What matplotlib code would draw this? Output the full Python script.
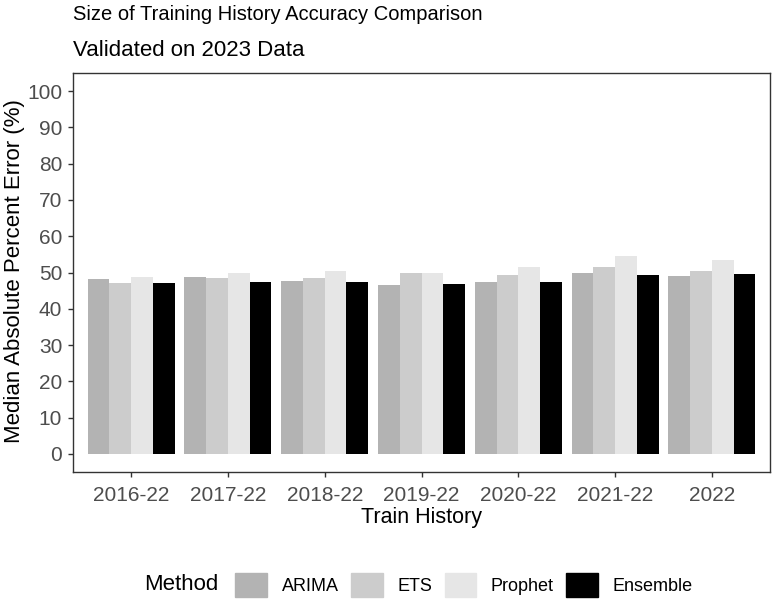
import matplotlib.pyplot as plt
import matplotlib.patches as mpatches
import numpy as np

plt.rcParams['font.family'] = ['Liberation Sans', 'DejaVu Sans']

# data
history = ['2016-22', '2017-22', '2018-22', '2019-22', '2020-22', '2021-22', '2022']
methods = ['ARIMA', 'ETS', 'Prophet', 'Ensemble']
arima = [48.3, 48.7, 47.6, 46.5, 47.3, 49.9, 49.0]
ets = [47.2, 48.5, 48.6, 49.8, 49.4, 51.6, 50.5]
prophet = [48.8, 50.0, 50.5, 49.8, 51.6, 54.6, 53.5]
ensemble = [47.2, 47.5, 47.5, 46.7, 47.3, 49.3, 49.6]
colors = ['#B3B3B3', '#CCCCCC', '#E6E6E6', '#000000']

W, H = 773, 603
fig = plt.figure(figsize=(W / 100, H / 100), dpi=100)
ax = fig.add_axes([73 / W, 1 - 472 / H, 697 / W, 399 / H])

x = np.arange(len(history))
bw = 0.225
series = [arima, ets, prophet, ensemble]
for i, (vals, c) in enumerate(zip(series, colors)):
    ax.bar(x + (i - 1.5) * bw, vals, width=bw, color=c, edgecolor='none')

ax.set_xlim(-0.6, len(history) - 0.4)
ax.set_ylim(-5, 105)
ax.set_yticks(np.arange(0, 101, 10))
ax.set_xticks(x)
ax.set_xticklabels(history)
for s in ax.spines.values():
    s.set_color('#333333')
    s.set_linewidth(1.0)
ax.tick_params(axis='both', colors='#333333', length=3.8, width=1.0,
               labelsize=15, labelcolor='#4D4D4D')
ax.tick_params(axis='x', pad=6)
ax.tick_params(axis='y', pad=4)

# titles
fig.text(73 / W, 1 - 20 / H, 'Size of Training History Accuracy Comparison',
         fontsize=14.5, va='baseline', ha='left')
fig.text(73 / W, 1 - 56 / H, 'Validated on 2023 Data',
         fontsize=16, va='baseline', ha='left')
fig.text((73 + 770) / 2 / W, 1 - 517 / H, 'Train History',
         fontsize=15.5, va='center', ha='center')
fig.text(15 / W, 1 - 271 / H, 'Median Absolute Percent Error (%)',
         fontsize=16, va='center', ha='center', rotation=90)

# legend
handles = [mpatches.Patch(color=c) for c in colors]
fig.text(144 / W, 1 - 585 / H, 'Method', fontsize=16, va='center', ha='left')
fig.legend(handles, methods, loc='center', bbox_to_anchor=(464 / W, 1 - 585 / H),
           ncol=4, frameon=False, fontsize=13, handlelength=1.75, handleheight=1.75,
           handletextpad=0.8, columnspacing=0.7, borderpad=0, borderaxespad=0)

plt.savefig('out.png', dpi=100)
